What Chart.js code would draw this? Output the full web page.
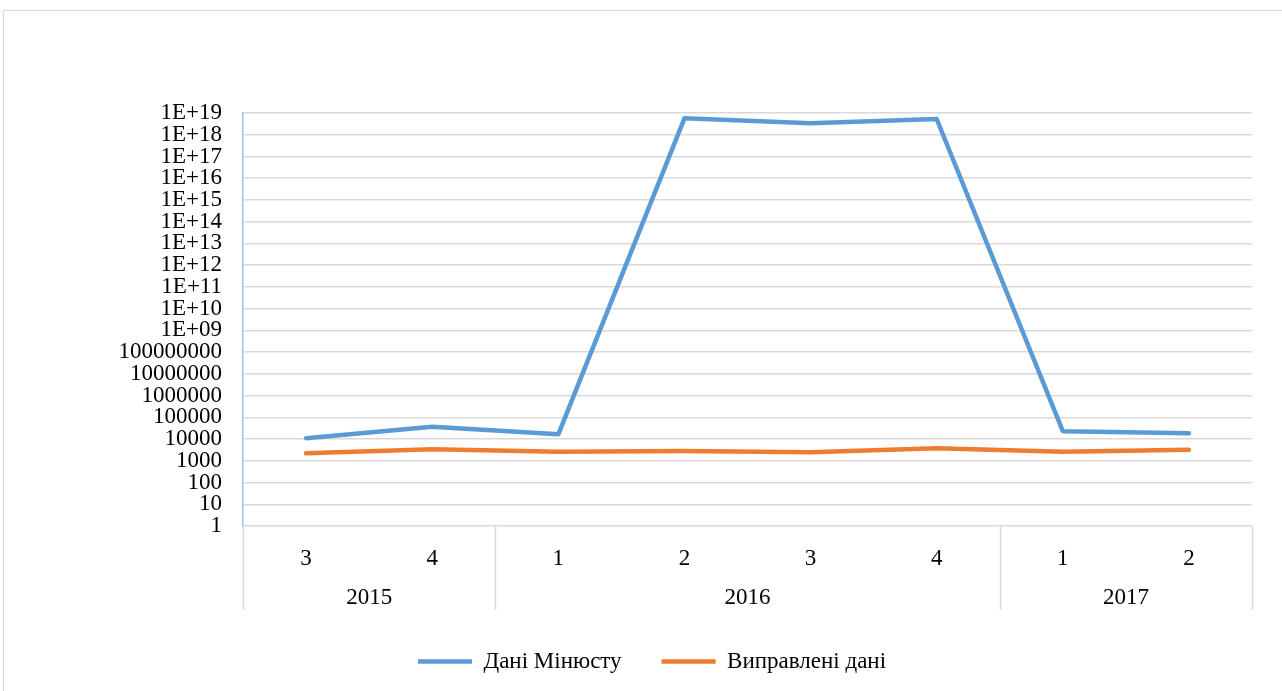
<!DOCTYPE html>
<html lang="uk">
<head>
    <meta charset="UTF-8">
    <title>Дані Мінюсту</title>
    <style>
        html, body {
            margin: 0;
            padding: 0;
            background: #fff;
            overflow: hidden;
        }
        .frame {
            position: absolute;
            left: 3px;
            top: 10px;
            width: 1300px;
            height: 700px;
            border: 1px solid #d9d9d9;
        }
        .frame canvas {
            display: block;
        }
    </style>
</head>
<body>
    <div class="frame">
        <canvas id="chart" width="1300" height="700"></canvas>
    </div>

    <script src="https://cdn.jsdelivr.net/npm/chart.js"></script>
    <script>
// Квартали та роки (дворівнева вісь X)
const quarters = ['3', '4', '1', '2', '3', '4', '1', '2'];
const years = ['2015', '2016', '2017'];
const yearCounts = [2, 4, 2];

// Значення рядів
const minjustData = [11000, 37000, 16500, 5.7e18, 3.4e18, 5.3e18, 23000, 18500];
const fixedData = [2200, 3400, 2600, 2800, 2500, 3800, 2600, 3200];

// Позначки осі Y (степені 10)
const yTicks = [];
for (let i = 0; i <= 19; i++) yTicks.push(Math.pow(10, i));

const FONT = "'Liberation Serif', 'Times New Roman', serif";
const FONT_SIZE = 23;
const gridColor = '#d9d9d9';

function fmtTick(v) {
    const e = Math.round(Math.log10(v));
    if (e >= 9) return '1E+' + (e < 10 ? '0' + e : e);
    return String(Math.round(v));
}

// Підписи років і роздільники груп під віссю X
const yearAxis = {
    id: 'yearAxis',
    afterDraw(chart) {
        const ctx = chart.ctx;
        const xs = chart.scales.x;
        const area = chart.chartArea;
        const w = (xs.right - xs.left) / quarters.length;
        const bottom = area.bottom + 84;
        ctx.save();
        ctx.strokeStyle = gridColor;
        ctx.lineWidth = 1.5;
        let start = 0;
        const edges = [0];
        yearCounts.forEach(c => { start += c; edges.push(start); });
        edges.forEach(e => {
            const px = Math.round(xs.left + e * w) + 0.5;
            ctx.beginPath();
            ctx.moveTo(px, area.bottom);
            ctx.lineTo(px, bottom);
            ctx.stroke();
        });
        ctx.fillStyle = '#000';
        ctx.font = FONT_SIZE + 'px ' + FONT;
        ctx.textAlign = 'center';
        ctx.textBaseline = 'middle';
        years.forEach((y, i) => {
            const cx = xs.left + (edges[i] + edges[i + 1]) / 2 * w;
            ctx.fillText(y, cx, area.bottom + 72);
        });
        ctx.restore();
    }
};

new Chart(document.getElementById('chart'), {
    type: 'line',
    data: {
        labels: quarters,
        datasets: [{
            label: 'Дані Мінюсту',
            data: minjustData,
            borderColor: '#5b9bd5',
            backgroundColor: '#5b9bd5',
            borderWidth: 4.5,
            borderCapStyle: 'round',
            borderJoinStyle: 'round',
            pointRadius: 0,
            tension: 0
        }, {
            label: 'Виправлені дані',
            data: fixedData,
            borderColor: '#ed7d31',
            backgroundColor: '#ed7d31',
            borderWidth: 4.5,
            borderCapStyle: 'round',
            borderJoinStyle: 'round',
            pointRadius: 0,
            tension: 0
        }]
    },
    options: {
        responsive: false,
        animation: false,
        layout: {
            padding: { top: 102, right: 52, left: 48, bottom: 28 }
        },
        scales: {
            x: {
                type: 'category',
                offset: true,
                grid: { display: false },
                border: { display: false },
                ticks: {
                    color: '#000',
                    font: { family: FONT, size: FONT_SIZE },
                    padding: 11,
                    maxRotation: 0
                },
                afterFit(scale) { scale.height = 84; }
            },
            y: {
                type: 'logarithmic',
                min: 1,
                max: 1e19,
                grid: { color: gridColor, lineWidth: 1.5, drawTicks: false },
                border: { color: '#9dc3e6', width: 1.5 },
                afterBuildTicks(scale) {
                    scale.ticks = yTicks.map(v => ({ value: v }));
                },
                ticks: {
                    autoSkip: false,
                    color: '#000',
                    font: { family: FONT, size: FONT_SIZE },
                    padding: 21,
                    callback: v => fmtTick(v)
                },
                afterFit(scale) { scale.width = 191; }
            }
        },
        plugins: {
            legend: {
                position: 'bottom',
                labels: {
                    usePointStyle: true,
                    pointStyle: 'line',
                    pointStyleWidth: 54,
                    color: '#000',
                    padding: 40,
                    font: { family: FONT, size: FONT_SIZE }
                }
            },
            tooltip: { enabled: false }
        }
    },
    plugins: [yearAxis]
});
    </script>
</body>
</html>
